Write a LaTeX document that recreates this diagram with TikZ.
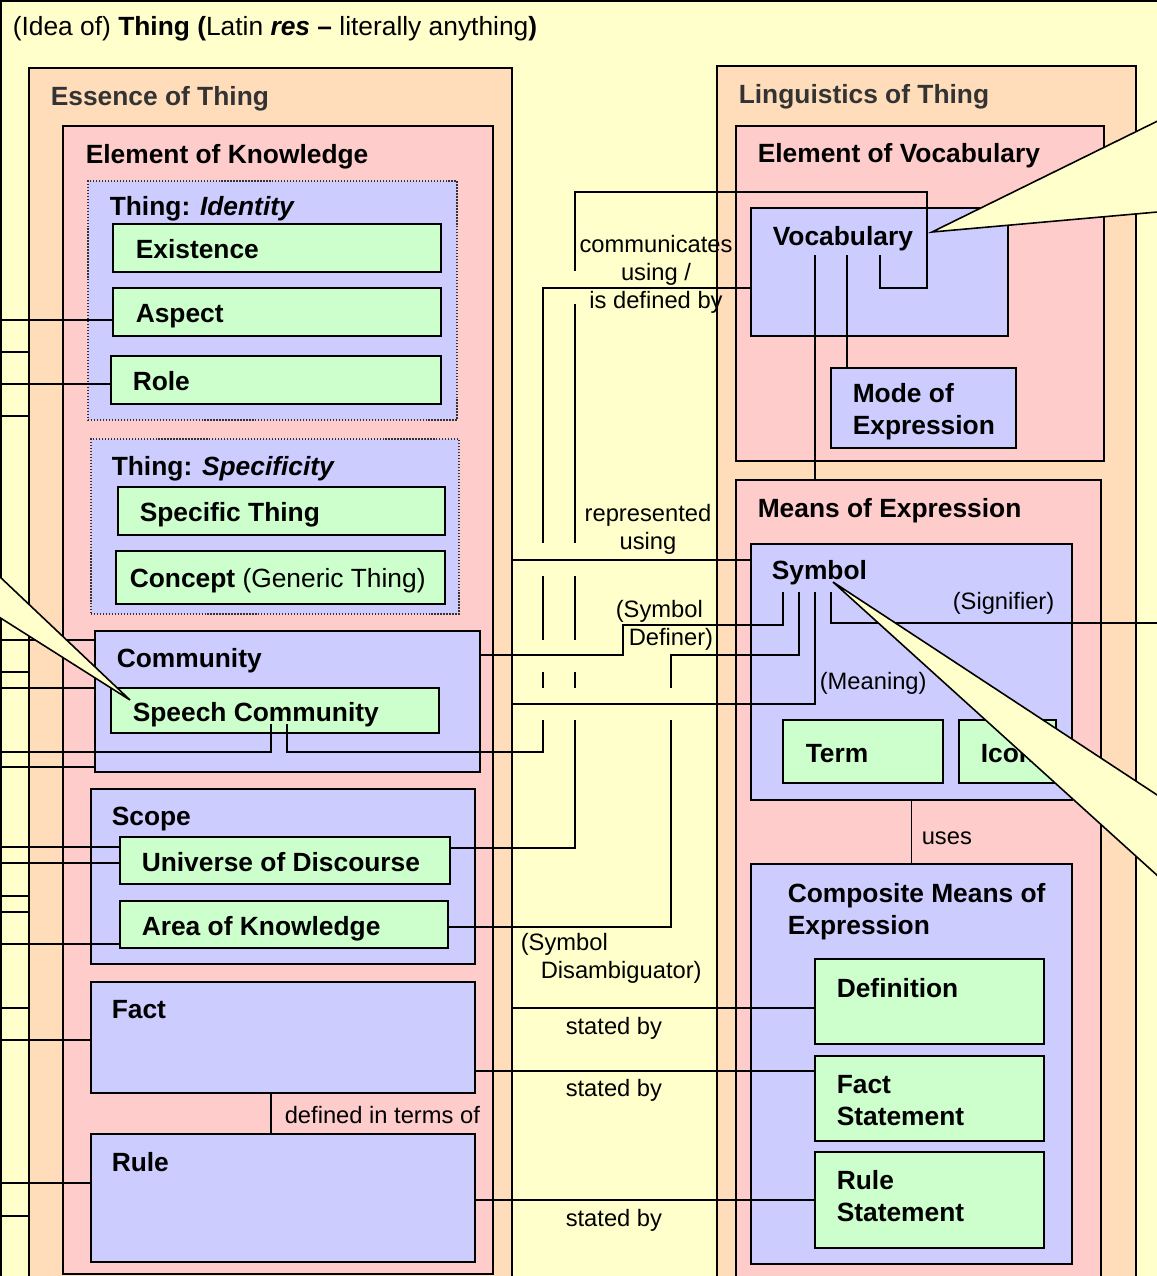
\documentclass[tikz,border=0pt]{standalone}
\usepackage{fontspec}
\setmainfont{Liberation Sans}
\usetikzlibrary{fit}

\definecolor{bgyellow}{HTML}{FFFFCC}
\definecolor{peach}{HTML}{FFDDBB}
\definecolor{rose}{HTML}{FFCCCC}
\definecolor{lilac}{HTML}{CCCCFF}
\definecolor{mint}{HTML}{CCFFCC}
\definecolor{headgray}{HTML}{333333}

\tikzset{
  outer/.style={draw=black, line width=1.1pt, inner sep=0pt},
  group/.style={outer, fill=lilac},
  leaf/.style={outer, fill=mint},
  dotbox/.style={draw=black!80, densely dotted, line width=0.7pt, fill=lilac, inner sep=0pt},
  hd/.style={font=\fontsize{15}{18.2}\selectfont\bfseries, anchor=base west, inner sep=0pt, align=left},
  txt/.style={font=\fontsize{13.5}{15.9}\selectfont, anchor=base west, inner sep=0pt, align=left},
  callout/.style={fill=bgyellow, draw=black, line width=0.9pt}
}

\begin{document}
\begin{tikzpicture}[x=0.02cm, y=-0.02cm, line width=0.9pt]
\useasboundingbox (0,0) rectangle (1157,1276);
\clip (0,0) rectangle (1157,1276);
\fill[bgyellow] (0,0) rectangle (1157,1276);
\draw (1,1300) -- (1,1) -- (1200,1);

\node[txt, font=\fontsize{15}{18}\selectfont] (title) at (12,35) {(Idea of) \textbf{Thing (}Latin \textbf{\textit{res}} \textbf{--} literally anything\textbf{)}};

% essence of thing
\node[outer, fill=peach, fit={(29,68) (512,1300)}] (essence) {};
\node[hd, text=headgray] (essencet) at (50,105) {Essence of Thing};
\node[outer, fill=rose, fit={(63,126) (493,1274)}] (knowledge) {};
\node[hd] (knowledget) at (85,163) {Element of Knowledge};

\node[dotbox, fit={(88,181) (457,420)}] (identity) {};
\node[hd] (identityt) at (109,215) {Thing: \textit{Identity}};
\node[leaf, fit={(113,224) (441,272)}] (existence) {};
\node[hd] (existencet) at (135,258) {Existence};
\node[leaf, fit={(113,288) (441,336)}] (aspect) {};
\node[hd] (aspectt) at (135,322) {Aspect};
\node[leaf, fit={(111,356) (441,404)}] (role) {};
\node[hd] (rolet) at (132,390) {Role};

\node[dotbox, fit={(91,439) (459,614)}] (specificity) {};
\node[hd] (specificityt) at (111,475) {Thing: \textit{Specificity}};
\node[leaf, fit={(118,487) (445,535)}] (specific) {};
\node[hd] (specifict) at (139,521) {Specific Thing};
\node[leaf, fit={(116,551) (445,604)}] (concept) {};
\node[hd] (conceptt) at (129,587) {Concept \mdseries(Generic Thing)};

\node[group, fit={(95,631) (480,772)}] (community) {};
\node[hd] (communityt) at (116,667) {Community};
\node[leaf, fit={(111,688) (439,733)}] (speech) {};
\node[hd] (speecht) at (132,721) {Speech Community};

\node[group, fit={(91,789) (475,964)}] (scope) {};
\node[hd] (scopet) at (111,825) {Scope};
\node[leaf, fit={(120,837) (450,884)}] (universe) {};
\node[hd] (universet) at (141,871) {Universe of Discourse};
\node[leaf, fit={(120,901) (448,948)}] (aok) {};
\node[hd] (aokt) at (141,935) {Area of Knowledge};

\node[group, fit={(91,982) (475,1093)}] (fact) {};
\node[hd] (factt) at (111,1018) {Fact};
\node[group, fit={(91,1134) (475,1262)}] (rule) {};
\node[hd] (rulet) at (111,1171) {Rule};

% linguistics of thing
\node[outer, fill=peach, fit={(717,66) (1136,1300)}] (linguistics) {};
\node[hd, text=headgray] (linguisticst) at (738,103) {Linguistics of Thing};
\node[outer, fill=rose, fit={(736,126) (1104,461)}] (vocabelem) {};
\node[hd] (vocabelemt) at (757,162) {Element of Vocabulary};
\node[group, fit={(751,208) (1008,336)}] (vocab) {};
\node[hd] (vocabt) at (772,245) {Vocabulary};
\node[group, fit={(831,368) (1016,448)}] (mode) {};
\node[hd] (modet) at (852,434) {Mode of\\Expression};

\node[outer, fill=rose, fit={(736,480) (1101,1300)}] (means) {};
\node[hd] (meanst) at (757,517) {Means of Expression};
\node[group, fit={(751,544) (1072,800)}] (symbol) {};
\node[hd] (symbolt) at (771,579) {Symbol};
\node[leaf, fit={(783,720) (943,783)}] (term) {};
\node[hd] (termt) at (805,762) {Term};
\node[leaf, fit={(959,720) (1056,783)}] (icon) {};
\node[hd] (icont) at (980,762) {Icon};

\node[group, fit={(751,864) (1072,1264)}] (composite) {};
\node[hd] (compositet) at (787,934) {Composite Means of\\Expression};
\node[leaf, fit={(815,959) (1044,1044)}] (definition) {};
\node[hd] (definitiont) at (836,997) {Definition};
\node[leaf, fit={(815,1056) (1044,1141)}] (factst) {};
\node[hd] (factstt) at (836,1125) {Fact\\Statement};
\node[leaf, fit={(815,1152) (1044,1248)}] (rulest) {};
\node[hd] (rulestt) at (836,1221) {Rule\\Statement};

% connectors on the left edge
\foreach \y/\tgt in {320/aspect, 384/role, 640/community, 688/community, 767/community, 847/universe, 863/universe, 944/aok, 1040/fact, 1183/rule}
  \draw (0,\y) -- (\tgt.west |- 0,\y);
\foreach \y in {352,416,672,896,912,1008,1216}
  \draw (0,\y) -- (essence.west |- 0,\y);

\coordinate (speechL) at (271,724);
\coordinate (speechR) at (287,724);
\draw (0,752) -| (speechL);

% communicates using / is defined by
\coordinate (vocabA) at (880,255);
\coordinate (vocabB) at (815,255);
\coordinate (vocabC) at (847,255);
\draw (vocabA) |- (927,288) |- (575,192) -- (575,271);
\foreach \a/\b in {304/543, 576/640, 672/688}
  \draw (575,\a) -- (575,\b);
\draw (575,720) |- (universe.east |- 0,848);
\draw (vocab.west |- 0,288) -| (543,543);
\foreach \a/\b in {576/640, 672/688}
  \draw (543,\a) -- (543,\b);
\draw (543,720) -- (543,752) -| (speechR);
\node[txt, anchor=base, align=center] (communicates) at (656,308) {communicates\\using /\\is defined by};

\draw (vocabB) -- (vocabB |- means.north);
\draw (vocabC) -- (vocabC |- mode.north);

% represented using
\draw (essence.east |- 0,560) -- (symbol.west |- 0,560);
\node[txt, anchor=base, align=center] (represented) at (648,549) {represented\\using};

% symbol links
\coordinate (symA) at (783,592);
\coordinate (symB) at (799,592);
\coordinate (symC) at (815,592);
\coordinate (symD) at (831,592);
\draw (community.east |- 0,655) -| (623,625) -| (symA);
\draw (symB) |- (671,655) -- (671,688);
\draw (671,720) |- (aok.east |- 0,927);
\draw (symC) |- (essence.east |- 0,704);
\draw (symD) |- (1157,623);
\node[txt] (definer) at (615,645) {(Symbol\\\hspace*{0.26cm}Definer)};
\node[txt] (disamb) at (520,978) {(Symbol\\\hspace*{0.4cm}Disambiguator)};
\node[txt] (meaning) at (819,689) {(Meaning)};
\node[txt] (signifier) at (952,609) {(Signifier)};

\draw (symbol.south) -- (composite.north);
\node[txt] (uses) at (921,844) {uses};

% stated by
\draw (essence.east |- 0,1008) -- (definition.west |- 0,1008);
\draw (fact.east |- 0,1071) -- (factst.west |- 0,1071);
\draw (rule.east |- 0,1200) -- (rulest.west |- 0,1200);
\foreach \y/\n in {1034/stA, 1096/stB, 1226/stC}
  \node[txt] (\n) at (565,\y) {stated by};

\draw (fact.south -| 271,0) -- (rule.north -| 271,0);
\node[txt] (definedin) at (284,1123) {defined in terms of};

% callouts
\filldraw[callout] (-20,558) -- (130,700) -- (-20,605);
\filldraw[callout] (1180,110) -- (932,232) -- (1180,210);
\filldraw[callout] (1180,810) -- (833,582) -- (1180,896);
\end{tikzpicture}
\end{document}
